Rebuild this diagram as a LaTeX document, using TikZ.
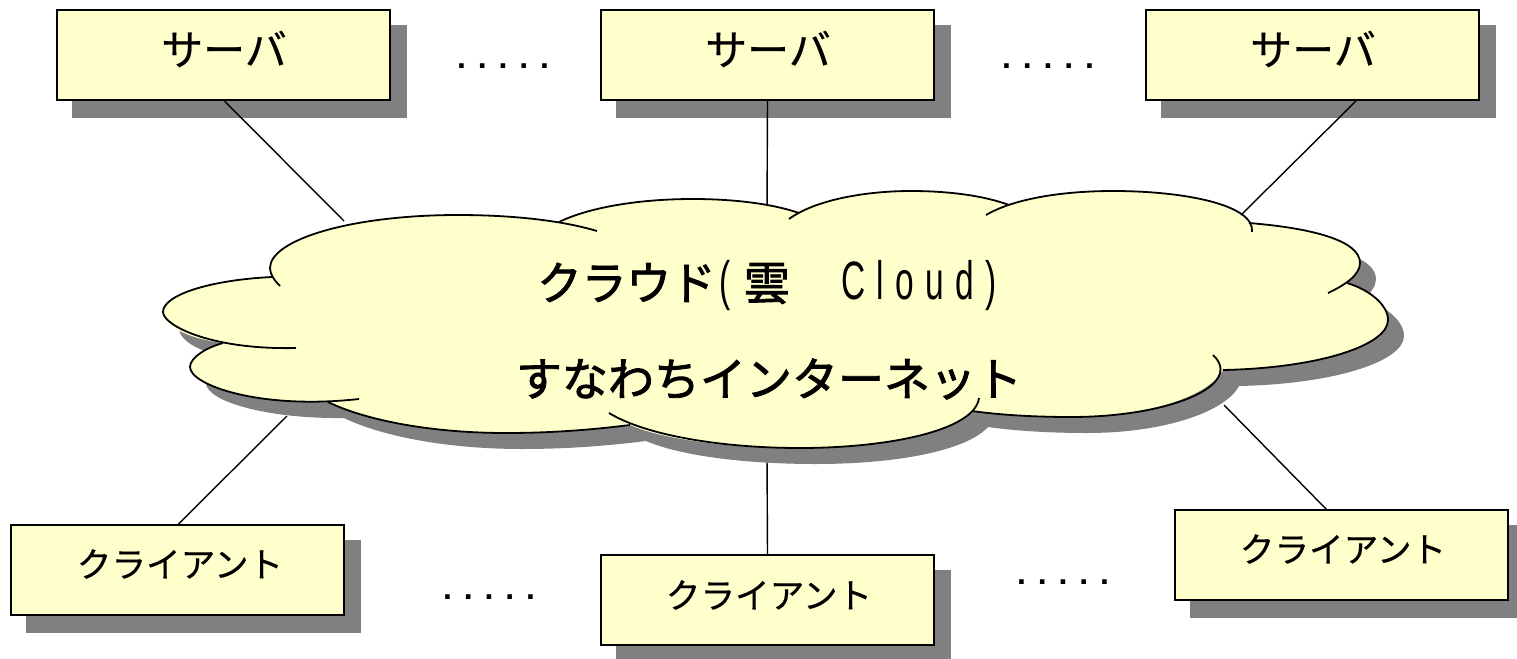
\documentclass[tikz,border=0pt]{standalone}
\usepackage{fontspec}
\newfontfamily\cjk[FakeBold=0.5]{Noto Sans CJK JP}
\newfontfamily\cjkc[FakeBold=1.8]{Noto Sans CJK JP}
\newfontfamily\cjkn[FakeBold=1.8,FakeStretch=0.97]{Noto Sans CJK JP}
\newfontfamily\lat[FakeStretch=0.62,LetterSpace=21]{Liberation Sans}
\newfontfamily\dotfont{Liberation Sans Bold}
\newcommand{\latbig}{\lat\fontsize{27}{28}\selectfont}
\definecolor{creamy}{HTML}{FFFFCC}
\definecolor{shadowgray}{HTML}{808080}
\tikzset{
  box/.style={draw=black,fill=creamy,line width=0.9pt,minimum width=166.5pt,minimum height=45pt,inner sep=0pt,outer sep=0pt,anchor=north west},
  boxshade/.style={fill=shadowgray,draw=none,minimum width=167.5pt,minimum height=46.5pt,inner sep=0pt,anchor=north west},
  srvtext/.style={font=\cjk\fontsize{21}{24}\selectfont},
  clitext/.style={font=\cjk\fontsize{17.3}{20}\selectfont},
  cloudtext/.style={font=\cjkc\fontsize{23}{28}\selectfont},
  cloudtextn/.style={font=\cjkn\fontsize{23}{28}\selectfont},
  dotstext/.style={font=\dotfont\fontsize{16}{18}\selectfont,anchor=base},
  link/.style={draw=black,line width=0.7pt},
  lobe/.style={draw=black,line width=0.9pt},
}
\begin{document}
\begin{tikzpicture}[x=0.5pt,y=-0.5pt]
\useasboundingbox (0,0) rectangle (1517,659);
% connectors' free ends on the cloud
\coordinate (e1) at (344,221);
\coordinate (e2) at (767,215);
\coordinate (e3) at (1241,215);
\coordinate (e4) at (287,416);
\coordinate (e5) at (767,455);
\coordinate (e6) at (1224,405);
\coordinate (p3) at (1357,100);
\coordinate (p6) at (1327,510);
% boxes
\foreach \n/\x/\y in {s1/57/10,s2/601/10,s3/1146/10,c1/11/525,c2/601/555,c3/1175/510}{
  \node[boxshade] at (\x+15,\y+15) {};
  \node[box] (\n) at (\x,\y) {};
}
\node[srvtext] (t1) at (224,49) {サーバ};
\node[srvtext] (t2) at (768,49) {サーバ};
\node[srvtext] (t3) at (1313,49) {サーバ};
\node[clitext] (t4) at (180,564) {クライアント};
\node[clitext] (t5) at (769,595) {クライアント};
\node[clitext] (t6) at (1343,549) {クライアント};
\node[dotstext] (d1) at (503,68) {. . . . .};
\node[dotstext] (d2) at (1048,68) {. . . . .};
\node[dotstext] (d3) at (489,599) {. . . . .};
\node[dotstext] (d4) at (1063,584) {. . . . .};
% connectors
\draw[link] (s1.south) -- (e1);
\draw[link] (s2.south) -- (e2);
\draw[link] (p3) -- (e3);
\draw[link] (c1.north) -- (e4);
\draw[link] (c2.north) -- (e5);
\draw[link] (p6) -- (e6);
% cloud
\def\cloudpath{
  (272,277) .. controls (271,274) and (270,271) .. (270,268)
  .. controls (270,240) and (350,215) .. (458,215)
  .. controls (495,215) and (530,217) .. (559,222)
  .. controls (590,207) and (640,199) .. (693,199)
  .. controls (725,199) and (770,203) .. (795,212)
  .. controls (825,198) and (865,191) .. (911,191)
  .. controls (950,191) and (985,196) .. (1009,205)
  .. controls (1040,195) and (1075,191) .. (1113,191)
  .. controls (1175,191) and (1225,200) .. (1249,223)
  .. controls (1310,228) and (1360,240) .. (1360,263)
  .. controls (1360,270) and (1355,277) .. (1347,283)
  .. controls (1370,290) and (1388,305) .. (1388,320)
  .. controls (1388,345) and (1320,368) .. (1223,370)
  .. controls (1210,395) and (1150,417) .. (1071,417)
  .. controls (1035,417) and (1000,415) .. (972,411)
  .. controls (950,435) and (880,448) .. (800,448)
  .. controls (730,448) and (665,440) .. (630,425)
  .. controls (590,430) and (550,433) .. (506,433)
  .. controls (430,433) and (365,420) .. (328,402)
  .. controls (250,403) and (190,385) .. (190,367)
  .. controls (190,358) and (205,348) .. (223,343)
  .. controls (185,338) and (163,325) .. (163,312)
  .. controls (163,295) and (210,280) .. (272,277) -- cycle}
\fill[shadowgray,shift={(16,16)}] \cloudpath;
\fill[creamy] \cloudpath;
\draw[lobe] (280,286) .. controls (274,280) and (270,274) .. (270,268) .. controls (270,240) and (350,215) .. (458,215) .. controls (510,215) and (560,220) .. (597,231);
\draw[lobe] (559,222) .. controls (590,207) and (640,199) .. (693,199) .. controls (730,199) and (770,203) .. (799,213);
\draw[lobe] (789,219) .. controls (815,200) and (865,191) .. (911,191) .. controls (950,191) and (985,196) .. (1009,205);
\draw[lobe] (986,215) .. controls (1015,198) and (1065,191) .. (1113,191) .. controls (1185,191) and (1255,205) .. (1252,232);
\draw[lobe] (1249,223) .. controls (1310,228) and (1360,240) .. (1360,263) .. controls (1360,275) and (1345,285) .. (1328,293);
\draw[lobe] (1347,283) .. controls (1370,290) and (1388,305) .. (1388,320) .. controls (1388,345) and (1320,368) .. (1223,370);
\draw[lobe] (1213,355) .. controls (1245,385) and (1170,417) .. (1071,417) .. controls (1035,417) and (1000,415) .. (972,411);
\draw[lobe] (979,398) .. controls (975,430) and (890,448) .. (800,448) .. controls (720,448) and (645,435) .. (609,413);
\draw[lobe] (630,425) .. controls (590,430) and (550,433) .. (506,433) .. controls (430,433) and (365,420) .. (328,402);
\draw[lobe] (359,399) .. controls (260,410) and (190,385) .. (190,367) .. controls (190,358) and (205,348) .. (223,343);
\draw[lobe] (296,348) .. controls (210,350) and (163,325) .. (163,312) .. controls (163,295) and (210,280) .. (272,277);
% cloud text
\node[cloudtextn] (cl1) at (767,286) {クラウド\hspace{2pt}{\latbig (}\hspace{6.5pt}{\cjkc 雲}　\hspace{3.5pt}{\latbig Cloud)}};
\node[cloudtext] (cl2) at (769,379) {すなわちインターネット};
\end{tikzpicture}
\end{document}
